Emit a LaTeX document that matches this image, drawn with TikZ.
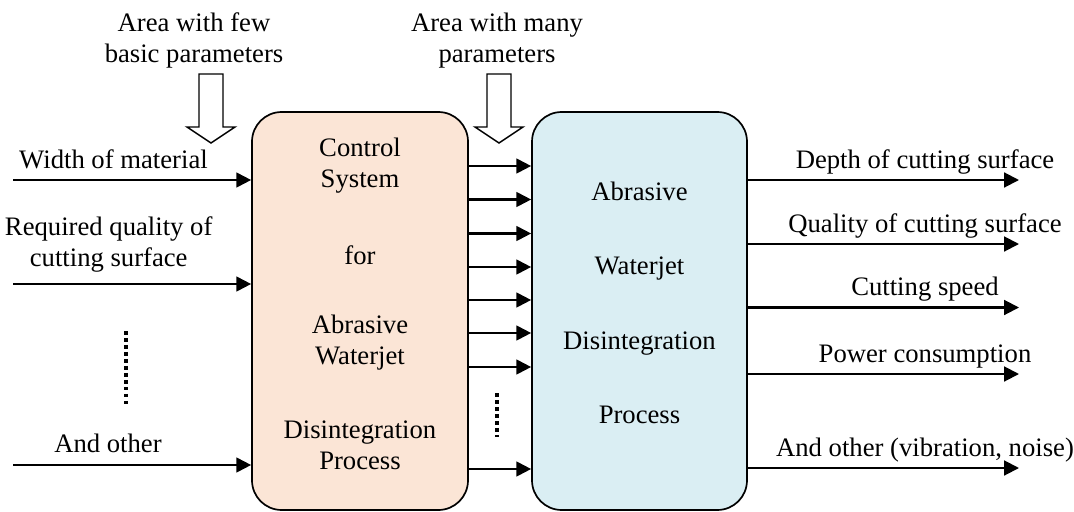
\documentclass[tikz,border=0pt]{standalone}
\usepackage{fontspec}
\setmainfont{Liberation Serif}
\usetikzlibrary{arrows.meta}

\definecolor{peach}{HTML}{FBE5D6}
\definecolor{aqua}{HTML}{DAEEF3}

\tikzset{
	sig/.style={line width=0.95pt, -{Triangle[length=7pt,width=7pt]}},
	blockbox/.style={draw, line width=0.8pt, rounded corners=14pt, inner sep=0pt},
	txt/.style={font=\fontsize{12.6}{14.6}\selectfont, align=center, inner sep=0pt},
	dots/.style={line width=1.9pt, dash pattern=on 1.7pt off 1.6pt},
	bigarrow/.style={draw, line width=0.7pt, fill=white},
}

\begin{document}
\begin{tikzpicture}[x=0.0166cm, y=-0.0166cm]
	\useasboundingbox (0,0) rectangle (1074,512);
	
	% the two blocks
	\node[blockbox, fill=peach, minimum width=3.586cm, minimum height=6.607cm] (ctrl) at (360,311) {};
	\node[blockbox, fill=aqua, minimum width=3.569cm, minimum height=6.607cm] (proc) at (639.5,311) {};
	
	\node[txt] (ctrltext) at (360,304) {Control\\System\\[21.6pt]for\\[18.3pt]Abrasive\\Waterjet\\[20.4pt]Disintegration\\Process};
	\node[txt] (proctext) at (639.5,303) {Abrasive\\[20.6pt]Waterjet\\[20.6pt]Disintegration\\[20.6pt]Process};
	
	% inputs
	\coordinate (in1) at (13,180);
	\coordinate (in2) at (13,284);
	\coordinate (in3) at (13,465);
	\draw[sig] (in1) -- (in1 -| ctrl.west);
	\draw[sig] (in2) -- (in2 -| ctrl.west);
	\draw[sig] (in3) -- (in3 -| ctrl.west);
	\node[txt, anchor=base] (lab1) at (113.5,168) {Width of material};
	\node[txt, anchor=base] (lab2) at (108.7,266) {Required quality of\\cutting surface};
	\node[txt, anchor=base] (lab3) at (108,452) {And other};
	\coordinate (dtop) at (126,331);
	\coordinate (dbot) at (126,404);
	\draw[dots] (dtop) -- (dbot);
	
	% control signals
	\foreach \y in {166,199.5,233.5,267,300,333,367,469}
		\draw[sig] (ctrl.east |- 0,\y) -- (proc.west |- 0,\y);
	\coordinate (ctop) at (497,393);
	\coordinate (cbot) at (497,437);
	\draw[dots] (ctop) -- (cbot);
	
	% outputs
	\foreach \y/\name [count=\i] in {180/Depth of cutting surface, 244/Quality of cutting surface, 307.5/Cutting speed, 374/Power consumption, 468/{And other (vibration, noise)}} {
		\coordinate (out\i) at (1019,\y);
		\draw[sig] (proc.east |- out\i) -- (out\i);
		\node[txt, anchor=base] (res\i) at (925,\y-12) {\name};
	}
	
	% parameter areas
	\node[txt, anchor=base] (few) at (194,62) {Area with few\\basic parameters};
	\node[txt, anchor=base] (many) at (497,62) {Area with many\\parameters};
	\foreach \x in {211,499}
		\draw[bigarrow] (\x-12,74) -- ++(24,0) -- ++(0,53) -- ++(12,0) -- ++(-24,16) -- ++(-24,-16) -- ++(12,0) -- cycle;
\end{tikzpicture}
\end{document}
